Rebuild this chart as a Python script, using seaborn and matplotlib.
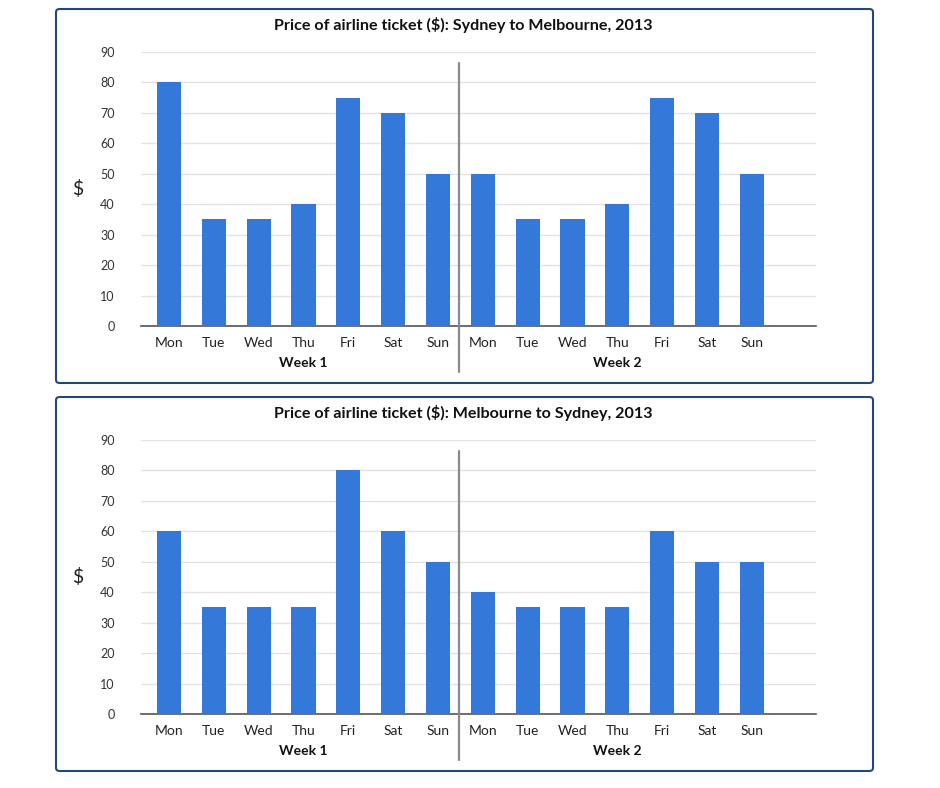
import seaborn as sns
import matplotlib.pyplot as plt
import pandas as pd
from matplotlib.patches import FancyBboxPatch

days = ['Mon', 'Tue', 'Wed', 'Thu', 'Fri', 'Sat', 'Sun']
weeks = ['Week 1', 'Week 2']

# Sydney -> Melbourne
syd_mel_w1 = [80, 35, 35, 40, 75, 70, 50]
syd_mel_w2 = [50, 35, 35, 40, 75, 70, 50]
# Melbourne -> Sydney
mel_syd_w1 = [60, 35, 35, 35, 80, 60, 50]
mel_syd_w2 = [40, 35, 35, 35, 60, 50, 50]

titles = ['Price of airline ticket ($): Sydney to Melbourne, 2013',
          'Price of airline ticket ($): Melbourne to Sydney, 2013']

sns.set_style('white')
plt.rcParams['font.family'] = ['Lato', 'DejaVu Sans']

bar_color = '#3479d9'
fig = plt.figure(figsize=(9.4, 7.88), dpi=100)


def make_df(w1, w2):
    rows = []
    for wk, vals in zip(weeks, [w1, w2]):
        for d, v in zip(days, vals):
            rows.append({'slot': d + ' ' + wk, 'day': d, 'week': wk, 'price': v})
    return pd.DataFrame(rows)


def draw_panel(top_px, w1, w2, title):
    # panel frame
    box = FancyBboxPatch((56 / 940, 1 - (top_px + 375) / 788), 817 / 940, 374 / 788,
                         boxstyle='round,pad=0,rounding_size=0.004',
                         transform=fig.transFigure, facecolor='none',
                         edgecolor='#24477a', linewidth=1.5, zorder=-1)
    fig.patches.append(box)
    fig.text(463 / 940, 1 - (top_px + 17) / 788, title, ha='center', va='center',
             fontsize=11.6, fontweight='bold', color='#111111')

    base = top_px + 318
    ax = fig.add_axes([141 / 940, 1 - base / 788, 675 / 940, 274 / 788])
    ax.patch.set_alpha(0)
    df = make_df(w1, w2)
    sns.barplot(data=df, x='slot', y='price', color=bar_color, width=0.54,
                saturation=1, linewidth=0, ax=ax, zorder=3)
    ax.set_xlim(-0.625, 14.43)
    ax.set_ylim(0, 90)
    ax.set_yticks(range(0, 91, 10))
    ax.yaxis.grid(True, color='#e3e3e3', linewidth=1, zorder=0)
    ax.set_axisbelow(True)
    for s in ['top', 'right', 'left']:
        ax.spines[s].set_visible(False)
    ax.spines['bottom'].set_color('#555555')
    ax.spines['bottom'].set_linewidth(1.2)
    ax.set_xticks(range(len(df)))
    ax.set_xticklabels(df['day'], fontsize=10, color='#222222')
    ax.tick_params(axis='both', length=0, pad=8)
    ax.tick_params(axis='y', labelsize=9, labelcolor='#333333', pad=19)
    ax.set_xlabel('')
    ax.set_ylabel('$', fontsize=14, rotation=0, labelpad=16, va='center', color='#222222')
    # week labels
    for i, wk in enumerate(weeks):
        ax.text(3 + 7 * i, -0.135, wk, transform=ax.get_xaxis_transform(),
                ha='center', va='center', fontsize=10, fontweight='bold', color='#111111')
    # week separator
    ax.axvline(6.47, ymin=-0.168, ymax=0.961, color='#8a8a8a', linewidth=1.6,
               clip_on=False, zorder=4)
    return ax


draw_panel(8, syd_mel_w1, syd_mel_w2, titles[0])
draw_panel(396, mel_syd_w1, mel_syd_w2, titles[1])

plt.savefig('out.png', dpi=100)
